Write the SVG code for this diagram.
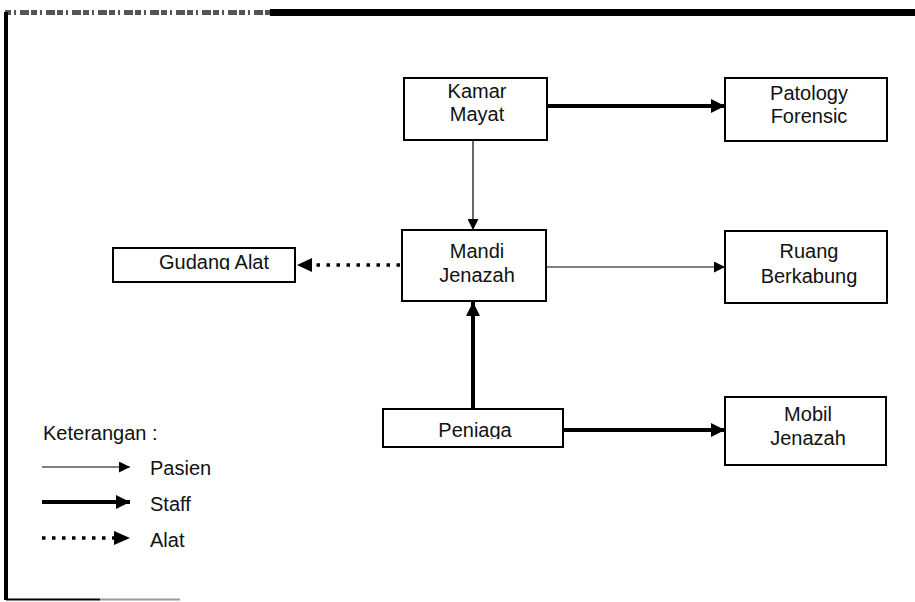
<svg xmlns="http://www.w3.org/2000/svg" width="915" height="602" viewBox="0 0 915 602">
  <style>
    .box { fill: #fff; stroke: #000; stroke-width: 2; }
    .lbl { font-family: "Liberation Sans", Arial, sans-serif; font-size: 20px; fill: #111; text-anchor: middle; }
    .leg { font-family: "Liberation Sans", Arial, sans-serif; font-size: 20px; fill: #111; }
    .thin { stroke: #000; stroke-width: 1.2; fill: none; }
    .thick { stroke: #000; stroke-width: 4; fill: none; }
    .dot { stroke: #000; stroke-width: 3.5; stroke-dasharray: 3.5 6.5; fill: none; }
  </style>
  <defs>
    <marker id="headS" viewBox="0 0 10 10" refX="10" refY="5" markerUnits="userSpaceOnUse" markerWidth="15" markerHeight="11" orient="auto">
      <path d="M0,0 L10,5 L0,10 Z" fill="#000"/>
    </marker>
    <marker id="headL" viewBox="0 0 10 10" refX="10" refY="5" markerUnits="userSpaceOnUse" markerWidth="18" markerHeight="14" orient="auto">
      <path d="M0,0 L10,5 L0,10 Z" fill="#000"/>
    </marker>
    <clipPath id="clipGudang"><rect x="114" y="249" width="180" height="21"/></clipPath>
    <clipPath id="clipPeniaga"><rect x="384" y="410" width="178" height="29"/></clipPath>
  </defs>

  <!-- page frame -->
  <g id="frame">
    <rect x="270" y="9" width="645" height="7" fill="#000"/>
    <line x1="5" y1="12.5" x2="270" y2="12.5" stroke="#555" stroke-width="5" stroke-dasharray="6 3 2 4 9 2"/>
    <line x1="6" y1="12" x2="6" y2="600" stroke="#000" stroke-width="4"/>
    <line x1="6" y1="599.5" x2="100" y2="599.5" stroke="#000" stroke-width="2"/>
    <line x1="100" y1="599.5" x2="180" y2="599.5" stroke="#999" stroke-width="2"/>
  </g>

  <!-- connectors -->
  <g id="connectors">
    <line class="thick" x1="547" y1="106" x2="725" y2="106" marker-end="url(#headL)"/>
    <line class="thin" x1="473" y1="140" x2="473" y2="230" marker-end="url(#headS)"/>
    <line class="dot" x1="400" y1="265" x2="312" y2="265"/>
    <path d="M312,258 L297,265 L312,272 Z" fill="#000"/>
    <line class="thin" x1="546" y1="267" x2="725" y2="267" marker-end="url(#headS)"/>
    <line class="thick" x1="473" y1="409" x2="473" y2="302" marker-end="url(#headL)"/>
    <line class="thick" x1="563" y1="430" x2="725" y2="430" marker-end="url(#headL)"/>
  </g>

  <g id="kamar-mayat">
    <rect class="box" x="404" y="78" width="143" height="62"/>
    <text class="lbl" x="477" y="98">Kamar</text>
    <text class="lbl" x="477" y="121">Mayat</text>
  </g>

  <g id="patology-forensic">
    <rect class="box" x="725" y="78" width="162" height="63"/>
    <text class="lbl" x="809" y="100">Patology</text>
    <text class="lbl" x="809" y="123">Forensic</text>
  </g>

  <g id="mandi-jenazah">
    <rect class="box" x="402" y="230" width="144" height="71"/>
    <text class="lbl" x="477" y="258">Mandi</text>
    <text class="lbl" x="477" y="282">Jenazah</text>
  </g>

  <g id="gudang-alat">
    <rect class="box" x="113" y="248" width="182" height="34"/>
    <text class="lbl" x="214" y="269" clip-path="url(#clipGudang)">Gudang Alat</text>
  </g>

  <g id="ruang-berkabung">
    <rect class="box" x="725" y="231" width="162" height="72"/>
    <text class="lbl" x="809" y="258">Ruang</text>
    <text class="lbl" x="809" y="283">Berkabung</text>
  </g>

  <g id="peniaga">
    <rect class="box" x="383" y="409" width="180" height="38"/>
    <text class="lbl" x="475" y="437" clip-path="url(#clipPeniaga)">Peniaga</text>
  </g>

  <g id="mobil-jenazah">
    <rect class="box" x="725" y="397" width="161" height="68"/>
    <text class="lbl" x="808" y="421">Mobil</text>
    <text class="lbl" x="808" y="445">Jenazah</text>
  </g>

  <!-- legend -->
  <g id="legend">
    <text class="leg" x="43" y="440">Keterangan :</text>
    <line class="thin" x1="42" y1="467" x2="130" y2="467" marker-end="url(#headS)"/>
    <text class="leg" x="150" y="475">Pasien</text>
    <line class="thick" x1="42" y1="502" x2="130" y2="502" marker-end="url(#headL)"/>
    <text class="leg" x="150" y="511">Staff</text>
    <line class="dot" x1="42" y1="538" x2="114" y2="538"/>
    <path d="M114,531 L130,538 L114,545 Z" fill="#000"/>
    <text class="leg" x="150" y="547">Alat</text>
  </g>
</svg>
